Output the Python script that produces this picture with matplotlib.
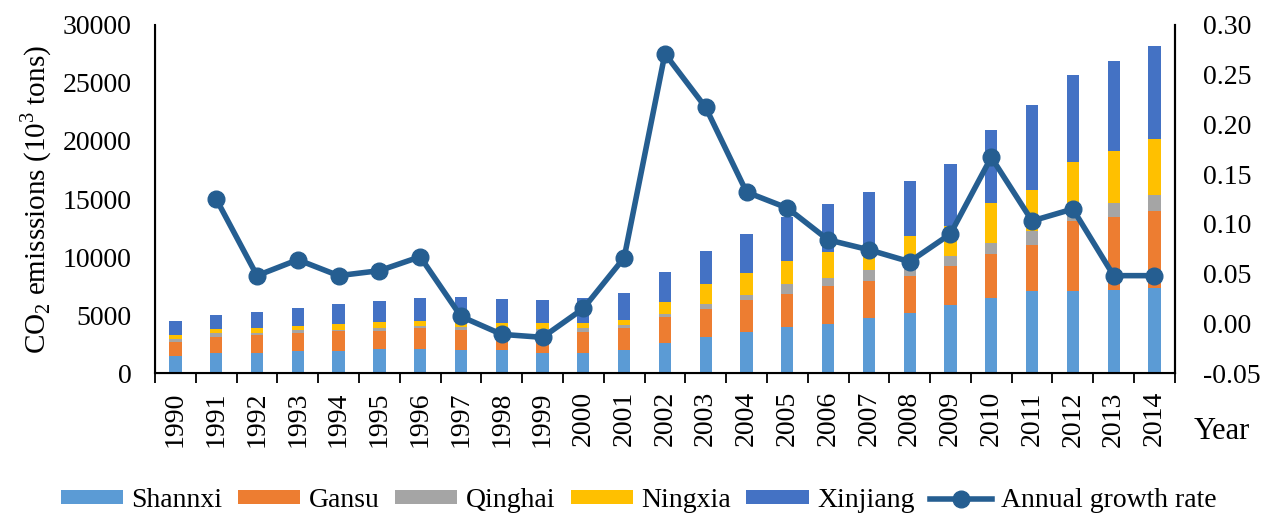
import numpy as np
import matplotlib
matplotlib.use('Agg')
import matplotlib.pyplot as plt
from matplotlib.ticker import FixedLocator

plt.rcParams['font.family'] = ['Liberation Serif', 'DejaVu Serif']
plt.rcParams['mathtext.fontset'] = 'custom'
plt.rcParams['mathtext.rm'] = 'Liberation Serif'

years = [str(y) for y in range(1990, 2015)]
shannxi = [1465, 1750, 1750, 1900, 1900, 2070, 2070, 1980, 1980, 1710, 1710, 2000, 2630,
           3090, 3550, 3990, 4275, 4740, 5200, 5830, 6465, 7035, 7035, 7205, 7350]
gansu = [1200, 1380, 1525, 1550, 1700, 1530, 1835, 1725, 1400, 1690, 1870, 1860, 2180,
         2470, 2760, 2870, 3225, 3215, 3210, 3360, 3795, 3965, 6035, 6270, 6580]
qinghai = [320, 290, 200, 280, 150, 280, 145, 285, 400, 410, 280, 295, 260,
           430, 430, 780, 740, 925, 700, 895, 910, 1270, 700, 1205, 1380]
ningxia = [290, 350, 430, 320, 480, 490, 460, 350, 500, 480, 430, 455, 1090,
           1700, 1860, 1980, 2190, 2240, 2665, 2615, 3510, 3505, 4420, 4455, 4885]
xinjiang = [1230, 1200, 1380, 1550, 1700, 1840, 1980, 2240, 2150, 2020, 2160, 2300, 2590,
            2870, 3365, 3790, 4100, 4480, 4745, 5340, 6290, 7325, 7500, 7785, 7955]
growth = [np.nan, 0.125, 0.048, 0.064, 0.048, 0.053, 0.067, 0.007, -0.011, -0.014, 0.015,
          0.066, 0.271, 0.217, 0.132, 0.116, 0.084, 0.074, 0.062, 0.090, 0.167, 0.103,
          0.115, 0.048, 0.048]

series = [('Shannxi', shannxi, '#5B9BD5'), ('Gansu', gansu, '#ED7D31'),
          ('Qinghai', qinghai, '#A5A5A5'), ('Ningxia', ningxia, '#FFC000'),
          ('Xinjiang', xinjiang, '#4472C4')]

fig = plt.figure(figsize=(12.77, 5.19), dpi=100)
ax = fig.add_axes([0.1214, 0.281, 0.7986, 0.671])
x = np.arange(len(years))

bottom = np.zeros(len(years))
handles = []
for name, vals, col in series:
    b = ax.bar(x, vals, 0.3, bottom=bottom, color=col, label=name, zorder=2)
    bottom += np.array(vals)
    handles.append(b)

ax.set_xlim(-0.5, len(years) - 0.5)
ax.set_ylim(0, 30000)
ax.set_yticks(range(0, 30001, 5000))
ax.set_xticks(x)
ax.set_xticklabels(years, rotation=90)
ax.xaxis.set_minor_locator(FixedLocator(np.arange(-0.5, len(years), 1)))
ax.tick_params(axis='x', which='major', length=0, pad=13, labelsize=20)
ax.tick_params(axis='x', which='minor', length=7, width=1.3, direction='out')
ax.tick_params(axis='y', length=0, pad=17, labelsize=20)
ax.set_ylabel('CO$_{\\mathregular{2}}$ emisssions (10$^{\\mathregular{3}}$ tons)', fontsize=21, labelpad=6)
ax.spines['top'].set_visible(False)
for s in ['left', 'bottom', 'right']:
    ax.spines[s].set_linewidth(1.5)

ax2 = ax.twinx()
ln, = ax2.plot(x, growth, color='#255E91', lw=4, marker='o', markersize=12,
               label='Annual growth rate', zorder=3)
ax2.set_ylim(-0.05, 0.30)
ax2.set_yticks(np.arange(-0.05, 0.301, 0.05))
ax2.set_yticklabels(['%.2f' % v for v in np.arange(-0.05, 0.301, 0.05)])
ax2.tick_params(axis='y', length=0, pad=20, labelsize=20)
ax2.spines['top'].set_visible(False)
ax2.spines['right'].set_linewidth(1.5)

fig.text(0.957, 0.168, 'Year', fontsize=22, ha='center', va='center')

handles.append(ln)
fig.legend(handles, [h.get_label() for h in handles], loc='center', bbox_to_anchor=(0.5, 0.035),
           ncol=6, frameon=False, fontsize=20, handlelength=2.25, handleheight=0.4,
           handletextpad=0.3, columnspacing=0.55)

fig.savefig('out.png', dpi=100)
